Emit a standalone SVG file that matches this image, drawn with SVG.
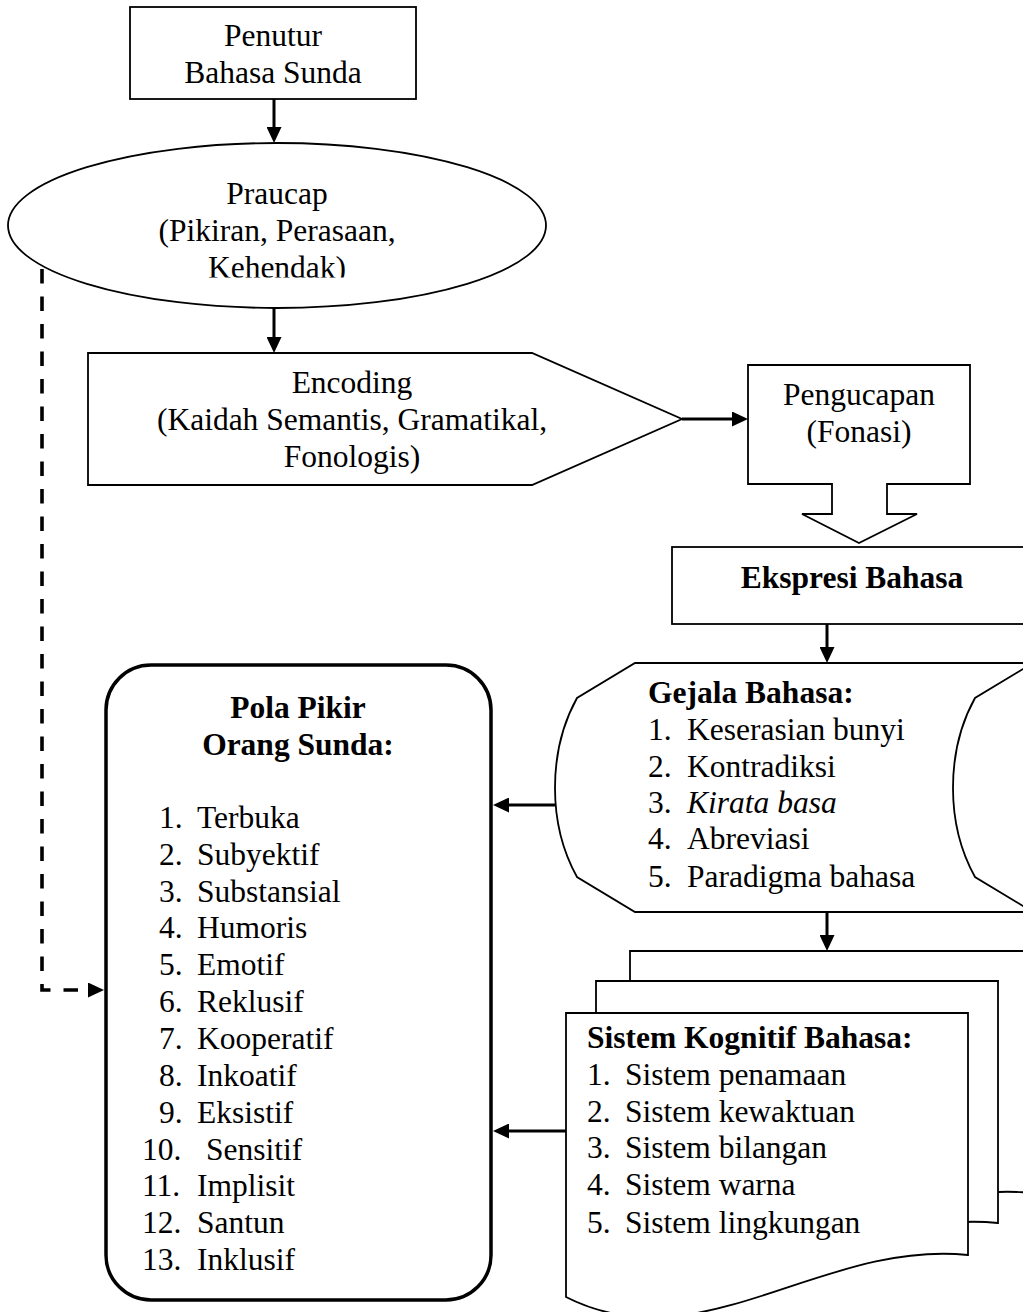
<svg xmlns="http://www.w3.org/2000/svg" width="1023" height="1312" viewBox="0 0 1023 1312">
  <defs>
    <style>
      text { font-family: "Liberation Serif", "Times New Roman", serif; font-size: 31.5px; fill: #000; }
      .c { text-anchor: middle; }
      .b { font-weight: bold; }
      .i { font-style: italic; }
      .shape { fill: #fff; stroke: #000; stroke-width: 1.8; }
      .conn { fill: none; stroke: #000; stroke-width: 3; marker-end: url(#arrow); }
      .dash { stroke-width: 3.6; stroke-dasharray: 14.5 13; }
    </style>
    <marker id="arrow" markerUnits="userSpaceOnUse" markerWidth="16" markerHeight="15" refX="6" refY="7.5" orient="auto">
      <path d="M0,0 L16,7.5 L0,15 Z" fill="#000"/>
    </marker>
    <clipPath id="ellipseTextClip">
      <rect x="0" y="0" width="1023" height="277.5"/>
    </clipPath>
    <!-- flowchart document sheet: flat top, wavy bottom -->
    <path id="docSheet" d="M0,0 H402 V242 C254,227 134,352 0,284 Z"/>
  </defs>

  <!-- Penutur Bahasa Sunda -->
  <g id="penutur">
    <rect class="shape" x="130" y="7" width="286" height="92"/>
    <text class="c" x="273" y="46">Penutur</text>
    <text class="c" x="273" y="83">Bahasa Sunda</text>
  </g>

  <!-- Praucap -->
  <g id="praucap">
    <ellipse class="shape" cx="277" cy="225.5" rx="269" ry="82.5"/>
    <g clip-path="url(#ellipseTextClip)">
      <text class="c" x="277" y="204">Praucap</text>
      <text class="c" x="277" y="241">(Pikiran, Perasaan,</text>
      <text class="c" x="277" y="278">Kehendak)</text>
    </g>
  </g>

  <!-- Encoding -->
  <g id="encoding">
    <path class="shape" d="M88,353 H532 L682,419 L532,485 H88 Z"/>
    <text class="c" x="352" y="393">Encoding</text>
    <text class="c" x="352" y="430">(Kaidah Semantis, Gramatikal,</text>
    <text class="c" x="352" y="467">Fonologis)</text>
  </g>

  <!-- Pengucapan (down-arrow callout) -->
  <g id="pengucapan">
    <path class="shape" d="M748,365 H970 V484 H887 V514 H917 L859,543 L802,514 H832 V484 H748 Z"/>
    <text class="c" x="859" y="405">Pengucapan</text>
    <text class="c" x="859" y="442">(Fonasi)</text>
  </g>

  <!-- Ekspresi Bahasa -->
  <g id="ekspresi">
    <rect class="shape" x="672" y="547" width="362" height="77"/>
    <text class="c b" x="852" y="588">Ekspresi Bahasa</text>
  </g>

  <!-- Gejala Bahasa (stored data) -->
  <g id="gejala">
    <path class="shape" d="M635,663 H1033 L975,698 C960,725 953,755 953,788 C953,820 960,850 975,877 L1033,912 H635 L577,877 C562,850 555,820 555,788 C555,755 562,725 577,698 Z"/>
    <text class="b" x="648" y="703">Gejala Bahasa:</text>
    <text x="648" y="740">1.</text><text x="687" y="740">Keserasian bunyi</text>
    <text x="648" y="777">2.</text><text x="687" y="777">Kontradiksi</text>
    <text x="648" y="813">3.</text><text class="i" x="687" y="813">Kirata basa</text>
    <text x="648" y="849">4.</text><text x="687" y="849">Abreviasi</text>
    <text x="648" y="887">5.</text><text x="687" y="887">Paradigma bahasa</text>
  </g>

  <!-- Sistem Kognitif Bahasa (stacked documents) -->
  <g id="sistem">
    <use href="#docSheet" class="shape" transform="translate(630,951)"/>
    <use href="#docSheet" class="shape" transform="translate(596,981)"/>
    <use href="#docSheet" class="shape" transform="translate(566,1013)"/>
    <text class="b" x="587" y="1048">Sistem Kognitif Bahasa:</text>
    <text x="587" y="1085">1.</text><text x="625" y="1085">Sistem penamaan</text>
    <text x="587" y="1122">2.</text><text x="625" y="1122">Sistem kewaktuan</text>
    <text x="587" y="1158">3.</text><text x="625" y="1158">Sistem bilangan</text>
    <text x="587" y="1195">4.</text><text x="625" y="1195">Sistem warna</text>
    <text x="587" y="1233">5.</text><text x="625" y="1233">Sistem lingkungan</text>
  </g>

  <!-- Pola Pikir Orang Sunda -->
  <g id="pola-pikir">
    <rect x="106" y="665" width="385" height="635" rx="45" ry="45" fill="#fff" stroke="#000" stroke-width="3.5"/>
    <text class="c b" x="298" y="718">Pola Pikir</text>
    <text class="c b" x="298" y="755">Orang Sunda:</text>
    <text x="159" y="828">1.</text><text x="197" y="828">Terbuka</text>
    <text x="159" y="865">2.</text><text x="197" y="865">Subyektif</text>
    <text x="159" y="902">3.</text><text x="197" y="902">Substansial</text>
    <text x="159" y="938">4.</text><text x="197" y="938">Humoris</text>
    <text x="159" y="975">5.</text><text x="197" y="975">Emotif</text>
    <text x="159" y="1012">6.</text><text x="197" y="1012">Reklusif</text>
    <text x="159" y="1049">7.</text><text x="197" y="1049">Kooperatif</text>
    <text x="159" y="1086">8.</text><text x="197" y="1086">Inkoatif</text>
    <text x="159" y="1123">9.</text><text x="197" y="1123">Eksistif</text>
    <text x="142" y="1160">10.</text><text x="206" y="1160">Sensitif</text>
    <text x="142" y="1196">11.</text><text x="197" y="1196">Implisit</text>
    <text x="142" y="1233">12.</text><text x="197" y="1233">Santun</text>
    <text x="142" y="1270">13.</text><text x="197" y="1270">Inklusif</text>
  </g>

  <!-- connectors -->
  <g id="connectors">
    <line class="conn" x1="274" y1="99" x2="274" y2="133"/>
    <line class="conn" x1="274" y1="308" x2="274" y2="343"/>
    <line class="conn" x1="682" y1="419" x2="738" y2="419"/>
    <line class="conn" x1="827" y1="624" x2="827" y2="653"/>
    <line class="conn" x1="827" y1="912" x2="827" y2="941"/>
    <line class="conn" x1="555" y1="805" x2="503" y2="805"/>
    <line class="conn" x1="566" y1="1131" x2="503" y2="1131"/>
    <path class="conn dash" d="M42,269 V990 H94"/>
  </g>
</svg>
